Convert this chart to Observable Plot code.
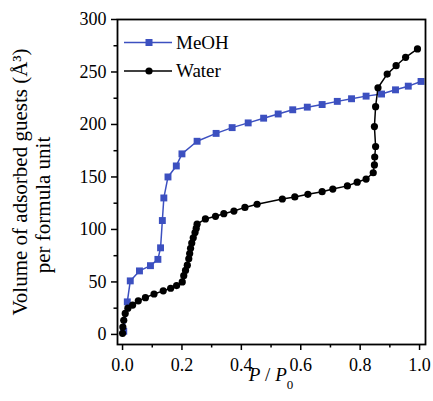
<!DOCTYPE html>
<html><head><meta charset="utf-8">
<script src="https://cdn.jsdelivr.net/npm/d3@7"></script>
<script src="https://cdn.jsdelivr.net/npm/@observablehq/plot@0.6"></script>
<style>
body{margin:0;background:#fff}
#chart{position:relative;width:433px;height:401px}
#chart svg{display:block}
</style>
</head><body><div id="chart"></div>
<script>
// ---- data ----
const meohP = [0.004,0.016,0.026,0.057,0.094,0.119,0.128,0.134,0.139,0.153,0.181,0.200,0.251,0.315,0.369,0.423,0.475,0.524,0.573,0.622,0.672,0.723,0.771,0.820,0.872,0.919,0.962,1.005];
const meohV = [3,31,51,60.5,65.5,71.5,82.5,108.5,130,150,160.5,172,184,191.5,197,201.5,206,210,214,216.5,219,222,224.5,227,229,233,236.5,241];
const waterP = [0.000,0.001,0.004,0.009,0.018,0.034,0.053,0.077,0.106,0.137,0.162,0.182,0.201,0.206,0.212,0.218,0.223,0.226,0.229,0.233,0.238,0.244,0.248,0.251,0.279,0.313,0.341,0.375,0.412,0.453,0.538,0.580,0.624,0.672,0.708,0.757,0.790,0.820,0.844,0.848,0.849,0.852,0.848,0.852,0.860,0.891,0.921,0.953,0.993];
const waterV = [1,7,13.5,20,25,28,32,35,38.5,41.5,44,46.5,50,56,61,66,72,77,82,87,92,97,101,105,110,112.5,115,117.5,121,124,129,131,133.5,136,138.5,141.5,145,148,154,161.5,169,179,198,217,235,248,256,264,272];
const seriesNames = ["MeOH","Water"];
const xTicks = [0,0.2,0.4,0.6,0.8,1.0];
const xMinor = [0.1,0.3,0.5,0.7,0.9];
const yTicks = [0,50,100,150,200,250,300];
const yMinor = [25,75,125,175,225,275];
const yLabelLines = ["Volume of adsorbed guests (Å\u00B3)","per formula unit"];

const colors = {MeOH:"#3c50c0", Water:"#000000"};
const meoh = meohP.map((p,i)=>({p, v:meohV[i]}));
const water = waterP.map((p,i)=>({p, v:waterV[i]}));

const font = "'Liberation Serif','Times New Roman',serif";

const chart = Plot.plot({
  width:433, height:401,
  marginLeft:117, marginRight:8, marginTop:19, marginBottom:57,
  style:{fontFamily:font, fontSize:"18px", color:"#000", background:"#fff"},
  x:{domain:[-0.017,1.02]},
  y:{domain:[-9.6,300]},
  marks:[
    Plot.axisX(xTicks,{tickSize:6, tickPadding:8, tickFormat:d3.format(".1f"), fontSize:18, strokeWidth:1.5, label:null}),
    Plot.axisX(xMinor,{tickSize:3.5, tickFormat:()=>"", strokeWidth:1.5, label:null}),
    Plot.axisY(yTicks,{tickSize:6, tickPadding:5, fontSize:18, strokeWidth:1.5, label:null}),
    Plot.axisY(yMinor,{tickSize:3.5, tickFormat:()=>"", strokeWidth:1.5, label:null}),
    Plot.line(meoh,{x:"p", y:"v", stroke:colors.MeOH, strokeWidth:1.5}),
    Plot.dot(meoh,{x:"p", y:"v", symbol:"square", r:3.9, fill:colors.MeOH, stroke:null}),
    Plot.line(water,{x:"p", y:"v", stroke:colors.Water, strokeWidth:1.5}),
    Plot.dot(water,{x:"p", y:"v", r:3.6, fill:colors.Water, stroke:null}),
    Plot.text([yLabelLines[0]],{frameAnchor:"left", rotate:-90, dx:-97, dy:0, fontSize:21, textAnchor:"middle", lineAnchor:"middle"}),
    Plot.text([yLabelLines[1]],{frameAnchor:"left", rotate:-90, dx:-74, dy:23, fontSize:21, textAnchor:"middle", lineAnchor:"middle"}),
    Plot.frame({stroke:"#000", strokeWidth:1.8})
  ]
});
document.getElementById("chart").appendChild(chart);

// x-axis label with italic P and subscript 0
const svg = d3.select(chart);
const xl = svg.append("text")
  .attr("x", 271).attr("y", 380.5)
  .attr("text-anchor","middle")
  .attr("font-family", font).attr("font-size", 19).attr("fill","#000");
xl.append("tspan").attr("font-style","italic").text("P");
xl.append("tspan").text(" / ");
xl.append("tspan").attr("font-style","italic").text("P");
xl.append("tspan").attr("font-size",13).attr("dy",8).text("0");

// legend
const leg = svg.append("g").attr("font-family", font).attr("font-size", 19).attr("text-anchor","start");
seriesNames.forEach((name,i)=>{
  const cy = 42.5 + i*28.5;
  const g = leg.append("g");
  g.append("line").attr("x1",124).attr("x2",172).attr("y1",cy).attr("y2",cy)
    .attr("stroke",colors[name]).attr("stroke-width",1.5);
  if (name==="MeOH") {
    g.append("rect").attr("x",149-3.5).attr("y",cy-3.5).attr("width",7).attr("height",7).attr("fill",colors[name]);
  } else {
    g.append("circle").attr("cx",149).attr("cy",cy).attr("r",3.6).attr("fill",colors[name]);
  }
  g.append("text").attr("x",176).attr("y",cy).attr("dy","0.34em").attr("text-anchor","start").attr("fill","#000").text(name);
});
</script>
</body></html>
